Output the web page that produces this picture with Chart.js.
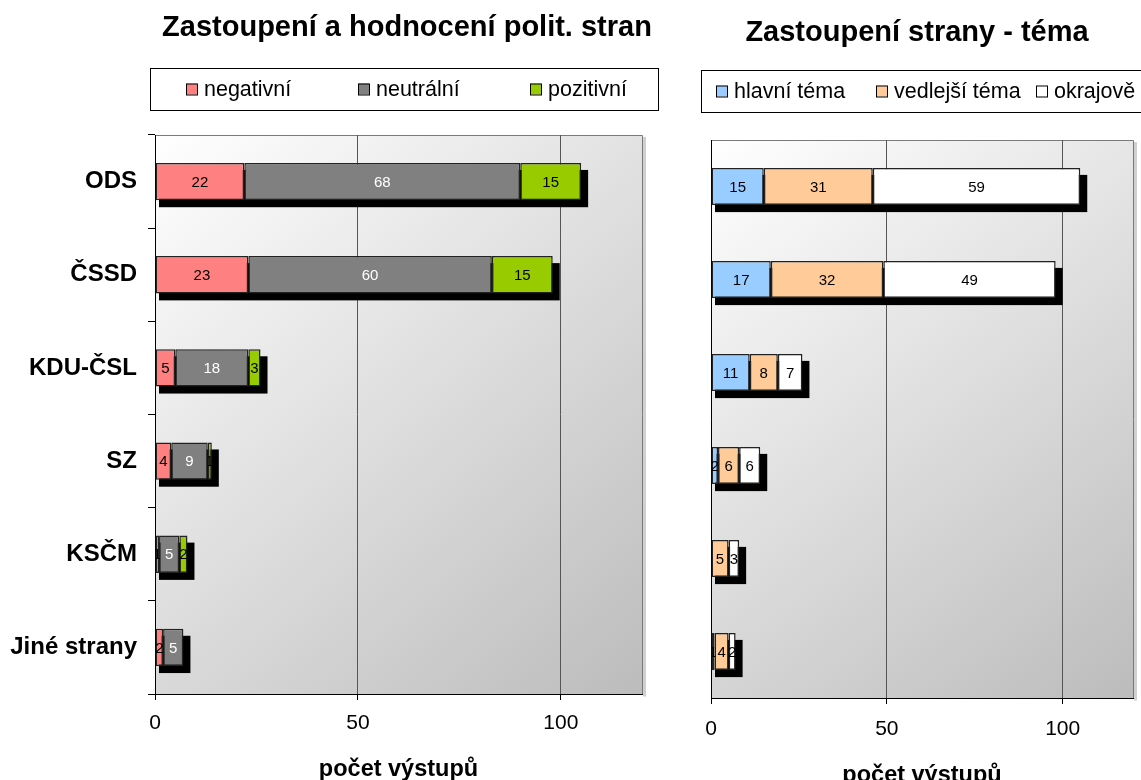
<!DOCTYPE html>
<html>
<head>
<meta charset="utf-8">
<script src="https://cdn.jsdelivr.net/npm/chart.js@4"></script>
<style>
html, body { margin: 0; padding: 0; background: #fff; overflow: hidden; }
#wrap { position: relative; width: 1141px; height: 780px; overflow: hidden; }
#c1 { position: absolute; left: 0; top: 0; }
#c2 { position: absolute; left: 680px; top: 0; }
</style>
</head>
<body>
<div id="wrap">
  <canvas id="c1" width="680" height="784"></canvas>
  <canvas id="c2" width="461" height="790"></canvas>
</div>
<script>
// data
const parties = ['ODS', 'ČSSD', 'KDU-ČSL', 'SZ', 'KSČM', 'Jiné strany'];
const negativni = [22, 23, 5, 4, 1, 2];
const neutralni = [68, 60, 18, 9, 5, 5];
const pozitivni = [15, 15, 3, 1, 2, 0];
const hlavniTema = [15, 17, 11, 2, 0, 1];
const vedlejsiTema = [31, 32, 8, 6, 5, 4];
const okrajove = [59, 49, 7, 6, 3, 2];
const axisMax = 120;
const axisStep = 50;

Chart.defaults.font.family = '"Liberation Sans", Arial, sans-serif';
Chart.defaults.color = '#000';

// background gradient, frame, title, boxed legend, bar shadows and value labels
const decor = {
  id: 'decor',
  beforeDraw(chart, args, o) {
    const ctx = chart.ctx, a = chart.chartArea;
    ctx.save();
    const g = ctx.createLinearGradient(a.left, a.top, a.right, a.bottom);
    g.addColorStop(0, '#ffffff');
    g.addColorStop(1, '#bcbcbc');
    ctx.fillStyle = g;
    ctx.fillRect(a.left, a.top, a.right - a.left, a.bottom - a.top);
    ctx.strokeStyle = '#7a7a7a';
    ctx.lineWidth = 1;
    ctx.beginPath();
    ctx.moveTo(a.left, a.top + 0.5);
    ctx.lineTo(a.right + 0.5, a.top + 0.5);
    ctx.lineTo(a.right + 0.5, a.bottom);
    ctx.stroke();
    ctx.strokeStyle = '#d0d0d0';
    ctx.lineWidth = 3;
    ctx.beginPath();
    ctx.moveTo(a.right + 2.5, a.top + 2);
    ctx.lineTo(a.right + 2.5, a.bottom + 2.5);
    ctx.stroke();

    // title
    ctx.fillStyle = '#000';
    ctx.font = 'bold 29px "Liberation Sans", Arial, sans-serif';
    ctx.textAlign = 'center';
    ctx.textBaseline = 'middle';
    ctx.fillText(o.title, o.titleX, o.titleY);

    // legend
    const L = o.legend;
    ctx.fillStyle = '#fff';
    ctx.fillRect(L.left, L.top, L.right - L.left, L.bottom - L.top);
    ctx.strokeStyle = '#000';
    ctx.lineWidth = 1;
    ctx.strokeRect(L.left + 0.5, L.top + 0.5, L.right - L.left, L.bottom - L.top);
    const cy = (L.top + L.bottom) / 2;
    ctx.font = '21.5px "Liberation Sans", Arial, sans-serif';
    ctx.textAlign = 'left';
    chart.data.datasets.forEach((ds, i) => {
      const bx = L.left + L.first + i * L.step;
      ctx.fillStyle = ds.backgroundColor;
      ctx.fillRect(bx, cy - 5.5, 11, 11);
      ctx.strokeStyle = '#000';
      ctx.strokeRect(bx + 0.5, cy - 5.5 + 0.5, 11, 11);
      ctx.fillStyle = '#000';
      ctx.fillText(ds.label, bx + 18, cy + 1);
    });
    ctx.restore();
  },
  beforeDatasetsDraw(chart) {
    const ctx = chart.ctx, xs = chart.scales.x;
    const meta0 = chart.getDatasetMeta(0);
    ctx.save();
    ctx.fillStyle = '#000';
    chart.data.labels.forEach((lab, i) => {
      let total = 0;
      chart.data.datasets.forEach(ds => { total += ds.data[i]; });
      if (!total) return;
      const el = meta0.data[i];
      const x0 = xs.getPixelForValue(0), x1 = xs.getPixelForValue(total);
      ctx.fillRect(x0 + 4, el.y - el.height / 2 + 7, x1 - x0 + 3, el.height);
    });
    ctx.restore();
  },
  afterDatasetsDraw(chart) {
    const ctx = chart.ctx;
    ctx.save();
    ctx.font = '15px "Liberation Sans", Arial, sans-serif';
    ctx.textAlign = 'center';
    ctx.textBaseline = 'middle';
    chart.data.datasets.forEach((ds, d) => {
      const meta = chart.getDatasetMeta(d);
      meta.data.forEach((el, i) => {
        const v = ds.data[i];
        if (!v) return;
        const l = Math.min(el.x, el.base), r = Math.max(el.x, el.base);
        ctx.save();
        ctx.beginPath();
        ctx.rect(l, el.y - el.height / 2, r - l + 1, el.height);
        ctx.clip();
        ctx.fillStyle = ds.labelColor;
        ctx.fillText(String(v), (l + r) / 2, el.y + 1);
        ctx.restore();
      });
    });
    ctx.restore();
  }
};

function makeDataset(label, data, color, labelColor) {
  return {
    label: label,
    data: data,
    backgroundColor: color,
    borderColor: '#222',
    borderWidth: 1.5,
    borderSkipped: false,
    labelColor: labelColor,
    barPercentage: 0.4,
    categoryPercentage: 1
  };
}

function xAxis(height, pad) {
  return {
    stacked: true,
    min: 0,
    max: axisMax,
    border: { color: '#000', width: 1 },
    grid: { color: '#555', lineWidth: 1, tickLength: 6, tickColor: '#000' },
    ticks: { stepSize: axisStep, includeBounds: false, padding: pad, color: '#000', font: { size: 21 }, maxRotation: 0 },
    title: { display: true, text: 'počet výstupů', color: '#000', font: { size: 23.5, weight: 'bold' }, padding: 0 },
    afterFit(s) { s.height = height; }
  };
}

new Chart(document.getElementById('c1'), {
  type: 'bar',
  data: {
    labels: parties,
    datasets: [
      makeDataset('negativní', negativni, '#ff8080', '#000'),
      makeDataset('neutrální', neutralni, '#808080', '#fff'),
      makeDataset('pozitivní', pozitivni, '#99cc00', '#000')
    ]
  },
  options: {
    indexAxis: 'y',
    responsive: false,
    animation: false,
    layout: { padding: { top: 135, left: 0, right: 38, bottom: 0 } },
    plugins: {
      legend: { display: false },
      tooltip: { enabled: false },
      decor: {
        title: 'Zastoupení a hodnocení polit. stran', titleX: 407, titleY: 28,
        legend: { left: 150, right: 658, top: 68, bottom: 110, first: 36, step: 172 }
      }
    },
    scales: {
      x: xAxis(90, 11),
      y: {
        stacked: true,
        border: { color: '#000', width: 1 },
        grid: { offset: true, drawOnChartArea: false, tickLength: 7, color: '#000' },
        ticks: { padding: 11, color: '#000', font: { size: 24, weight: 'bold' } },
        afterFit(s) { s.width = 155; }
      }
    }
  },
  plugins: [decor]
});

new Chart(document.getElementById('c2'), {
  type: 'bar',
  data: {
    labels: parties,
    datasets: [
      makeDataset('hlavní téma', hlavniTema, '#99ccff', '#000'),
      makeDataset('vedlejší téma', vedlejsiTema, '#ffcc99', '#000'),
      makeDataset('okrajově', okrajove, '#ffffff', '#000')
    ]
  },
  options: {
    indexAxis: 'y',
    responsive: false,
    animation: false,
    layout: { padding: { top: 140, left: 0, right: 8, bottom: 0 } },
    plugins: {
      legend: { display: false },
      tooltip: { enabled: false },
      decor: {
        title: 'Zastoupení strany - téma', titleX: 237, titleY: 33,
        legend: { left: 21, right: 500, top: 70, bottom: 112, first: 15, step: 160 }
      }
    },
    scales: {
      x: xAxis(92, 13),
      y: {
        stacked: true,
        border: { display: true, color: '#000', width: 1 },
        grid: { display: false },
        ticks: { display: false },
        afterFit(s) { s.width = 31; }
      }
    }
  },
  plugins: [decor]
});
</script>
</body>
</html>
